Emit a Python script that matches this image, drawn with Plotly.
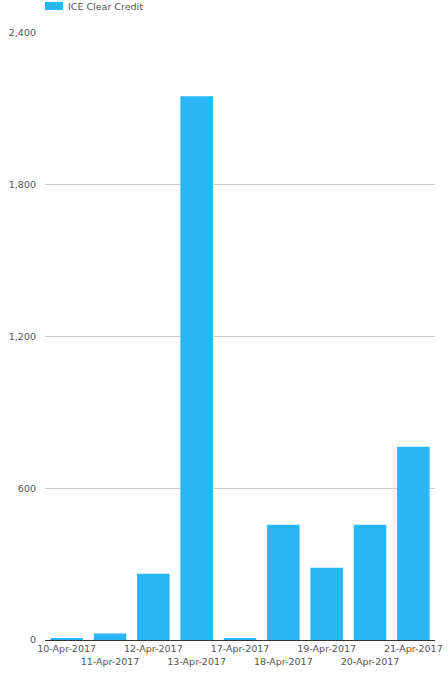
import plotly.graph_objects as go

# data
dates = ["10-Apr-2017", "11-Apr-2017", "12-Apr-2017", "13-Apr-2017", "17-Apr-2017",
         "18-Apr-2017", "19-Apr-2017", "20-Apr-2017", "21-Apr-2017"]
values = [7, 26, 262, 2150, 6, 456, 286, 456, 764]
series_name = "ICE Clear Credit"
y_ticks = [0, 600, 1200, 1800, 2400]

bar_color = "#29b6f6"
text_color = "#555555"

W, H = 448, 673
M = dict(l=45, r=13, t=33, b=33)
plot_w = W - M["l"] - M["r"]
plot_h = H - M["t"] - M["b"]

# alternate the labels on two rows like the original
tick_text = [d if i % 2 == 0 else "<br>" + d for i, d in enumerate(dates)]

fig = go.Figure()
fig.add_trace(go.Bar(x=dates, y=values, name=series_name, marker_color=bar_color,
                     marker_line_width=0, showlegend=False))

# legend drawn by hand: wide swatch + label above the plot
fig.add_shape(type="rect", xref="paper", yref="paper",
              x0=0, x1=18 / plot_w,
              y0=1 + (M["t"] - 10) / plot_h, y1=1 + (M["t"] - 2) / plot_h,
              fillcolor=bar_color, line_width=0)
fig.add_annotation(text=series_name, xref="paper", yref="paper",
                   x=21 / plot_w, y=1 + (M["t"] - 6) / plot_h,
                   xanchor="left", yanchor="middle", showarrow=False,
                   font=dict(size=9.5, color=text_color))

fig.update_layout(
    width=W, height=H,
    margin=M,
    paper_bgcolor="white", plot_bgcolor="white",
    font=dict(family="DejaVu Sans", size=9.5, color=text_color),
    bargap=0.25,
)
fig.update_xaxes(tickmode="array", tickvals=dates, ticktext=tick_text, tickangle=0,
                 showline=True, linecolor="#333333", linewidth=1, ticks="",
                 showgrid=False, automargin=False)
fig.update_yaxes(range=[0, 2400], tickmode="array", tickvals=y_ticks, tickformat=",",
                 showgrid=True, gridcolor="#cccccc", zeroline=False, ticks="",
                 ticklabelstandoff=8, automargin=False)

# page body has an 8px default margin; drop it so the chart sits flush
fig.write_html("out.html", config={"displayModeBar": False},
               post_script="document.body.style.margin='0';")
